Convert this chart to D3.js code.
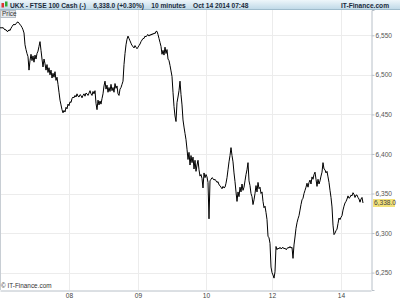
<!DOCTYPE html>
<html><head><meta charset="utf-8">
<script src="https://cdn.jsdelivr.net/npm/d3@7"></script>
<style>html,body{margin:0;padding:0;background:#fff;}svg{display:block;font-family:"Liberation Sans",Arial,sans-serif;}</style>
</head><body><div id="chart"></div>
<script>
// Closing price of each consecutive 10-minute bar (bar 0 = Oct 7 open)
const prices = [
6559,6560,6559,6560,6558,6557,6557,6555,6555,6557,6556,6559,6561,6563,6564,6563,6565,6566,6567,6565,
6564,6562,6560,6557,6553,6538,6532,6527,6523,6506,6518,6526,6518,6524,6516,6525,6520,6527,6530,6536,
6542,6531,6520,6510,6520,6514,6506,6513,6503,6509,6500,6506,6496,6502,6497,6504,6493,6497,6488,6478,
6468,6462,6456,6452,6455,6453,6459,6457,6463,6461,6466,6465,6470,6472,6471,6474,6472,6476,6473,6472,
6475,6474,6471,6474,6476,6473,6477,6476,6474,6477,6480,6476,6474,6479,6476,6480,6464,6456,6468,6462,
6467,6463,6470,6476,6486,6492,6482,6487,6478,6484,6479,6488,6480,6484,6478,6489,6483,6486,6476,6474,
6482,6484,6488,6492,6513,6527,6538,6545,6549,6546,6543,6540,6537,6536,6534,6537,6535,6533,6535,6537,
6539,6542,6544,6546,6546,6549,6548,6550,6551,6549,6551,6550,6552,6551,6553,6552,6555,6555,6551,6546,
6541,6536,6526,6531,6525,6535,6527,6532,6520,6518,6512,6505,6498,6478,6460,6448,6441,6465,6472,6480,
6492,6475,6462,6443,6434,6426,6418,6406,6393,6402,6386,6398,6389,6396,6381,6392,6378,6386,6392,6380,
6372,6374,6369,6357,6376,6370,6374,6371,6364,6318,6366,6368,6370,6369,6367,6368,6366,6364,6365,6361,
6360,6358,6356,6359,6357,6358,6363,6370,6380,6390,6398,6408,6398,6390,6376,6365,6352,6340,6352,6346,
6358,6352,6362,6354,6358,6366,6374,6380,6389,6366,6360,6350,6346,6336,6342,6350,6360,6352,6364,6356,
6358,6350,6352,6340,6332,6334,6326,6317,6296,6294,6287,6257,6250,6247,6243,6251,6283,6279,6281,6280,
6282,6280,6281,6282,6280,6281,6279,6280,6282,6281,6283,6281,6282,6268,6285,6295,6306,6313,6318,6322,
6329,6336,6342,6344,6350,6354,6358,6363,6358,6364,6367,6362,6371,6368,6374,6377,6368,6359,6368,6362,
6366,6372,6377,6389,6381,6380,6376,6378,6371,6364,6354,6345,6333,6310,6298,6300,6303,6305,6312,6319,
6317,6320,6322,6329,6334,6338,6340,6343,6347,6344,6345,6348,6347,6351,6349,6345,6348,6348,6345,6343,
6339,6343,6345,6338];
const bars = prices.map((_, i) => i);          // bar index (time axis)
const xTickBars = [69,138,206,272,341];        // first bar of each labelled day
const xTickLabels = ["08","09","10","12","14"];
const yTicks = [6250,6300,6350,6400,6450,6500,6550];
const lastPrice = 6338.0;
const titleText = "UKX - FTSE 100 Cash (-)    6,338.0 (+0.30%)    10 minutes    Oct 14 2014 07:48";
const brandText = "IT-Finance.com";

const W = 400, H = 300;
const plot = {l:0, r:371, t:10, b:290};
const svg = d3.select("#chart").append("svg").attr("width",W).attr("height",H);

const x = d3.scaleLinear().domain([0,371]).range([plot.l, plot.r]);
const y = d3.scaleLinear().domain([6228,6582]).range([plot.b, plot.t]);

// header gradient
const defs = svg.append("defs");
const g1 = defs.append("linearGradient").attr("id","hdr").attr("x1",0).attr("y1",0).attr("x2",0).attr("y2",1);
g1.append("stop").attr("offset","0%").attr("stop-color","#eef6fa");
g1.append("stop").attr("offset","100%").attr("stop-color","#bcd7e6");
svg.append("rect").attr("x",0).attr("y",0).attr("width",W).attr("height",10).attr("fill","url(#hdr)");
svg.append("line").attr("x1",0).attr("x2",W).attr("y1",9.5).attr("y2",9.5).attr("stroke","#9fbccc");

// icon
svg.append("rect").attr("x",1.5).attr("y",3).attr("width",2.5).attr("height",4.5).attr("fill","#d33");
svg.append("rect").attr("x",5).attr("y",1.5).attr("width",2.5).attr("height",5).attr("fill","#3a3");
svg.append("text").attr("x",10).attr("y",7.6).attr("font-size",6.6).attr("font-weight","bold").attr("fill","#1a2a3a").attr("xml:space","preserve").text(titleText);
svg.append("text").attr("x",389).attr("y",7.6).attr("text-anchor","end").attr("font-size",6.6).attr("font-weight","bold").attr("fill","#1a2a3a").text(brandText);

// grid
const grid = svg.append("g");
grid.selectAll(".hg").data(yTicks).join("line")
  .attr("x1",plot.l).attr("x2",plot.r).attr("y1",d=>Math.round(y(d))+0.5).attr("y2",d=>Math.round(y(d))+0.5)
  .attr("stroke","#ececec");
grid.selectAll(".vg").data(xTickBars).join("line")
  .attr("x1",d=>Math.round(x(d))+0.5).attr("x2",d=>Math.round(x(d))+0.5).attr("y1",plot.t).attr("y2",plot.b)
  .attr("stroke","#ececec");

// right axis
const yAxis = d3.axisRight(y).tickValues(yTicks).tickFormat(d3.format(",")).tickSize(3).tickPadding(1);
const ya = svg.append("g").attr("transform",`translate(${plot.r+0.5},0)`).call(yAxis);
ya.select(".domain").attr("stroke","#b8c0c8");
ya.selectAll(".tick line").attr("stroke","#b8c0c8");
ya.selectAll(".tick text").attr("font-size",6.6).attr("fill","#555").attr("font-family","Liberation Sans, Arial, sans-serif");

// bottom axis
const xAxis = d3.axisBottom(x).tickValues(xTickBars).tickFormat((d,i)=>xTickLabels[i]).tickSize(0).tickPadding(3);
const xa = svg.append("g").attr("transform",`translate(0,${plot.b+0.5})`).call(xAxis);
xa.select(".domain").attr("stroke","#b8c0c8");
xa.selectAll(".tick text").attr("font-size",6.6).attr("fill","#444").attr("font-family","Liberation Sans, Arial, sans-serif");

// left border
svg.append("line").attr("x1",0.5).attr("x2",0.5).attr("y1",plot.t).attr("y2",plot.b).attr("stroke","#c8ced4");

// price line
const line = d3.line().x((d,i)=>x(bars[i])).y(d=>y(d));
svg.append("path").datum(prices).attr("d",line).attr("fill","none").attr("stroke","#000").attr("stroke-width",1).attr("stroke-linejoin","miter");

// Price label box
svg.append("rect").attr("x",0.5).attr("y",10.5).attr("width",15).attr("height",7).attr("fill","#e4e8ec").attr("stroke","#b8c0c8");
svg.append("text").attr("x",2).attr("y",16.3).attr("font-size",6.4).attr("fill","#333").text("Price");

// last price tag
const ly = y(lastPrice);
svg.append("rect").attr("x",373).attr("y",ly-4).attr("width",22).attr("height",8).attr("fill","#f2e27a");
svg.append("text").attr("x",374).attr("y",ly+2.4).attr("font-size",6.6).attr("fill","#444").text(d3.format(",.1f")(lastPrice));

// copyright
svg.append("text").attr("x",1).attr("y",288).attr("font-size",6.4).attr("fill","#333").text("© IT-Finance.com");
</script></body></html>
